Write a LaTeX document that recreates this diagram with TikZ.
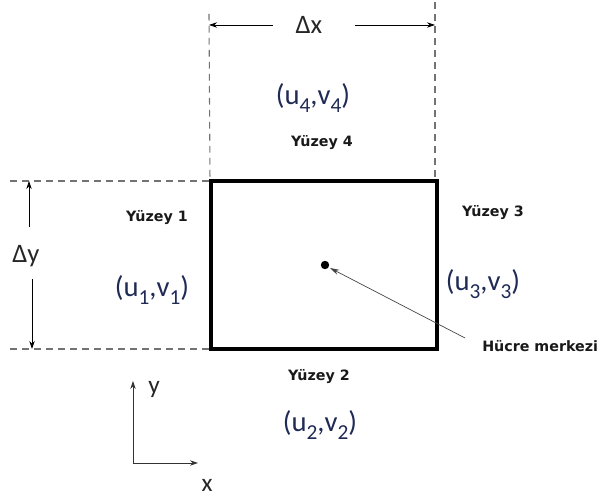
\documentclass[tikz,border=0pt]{standalone}
\usepackage{fontspec}
\setmainfont{Carlito}
\newfontfamily\facefont{DejaVu Sans}
\usetikzlibrary{arrows.meta}
\definecolor{velblue}{HTML}{1F2A55}
\newcommand{\lowsub}[1]{\raisebox{-0.55ex}{\fontsize{16}{18}\selectfont #1}}
\tikzset{
  guide/.style={black!55,line width=0.8pt,dash pattern=on 5pt off 4pt},
  dimline/.style={black,line width=0.5pt,-{Stealth[length=6pt,width=4pt]}},
  facelabel/.style={font=\facefont\bfseries\fontsize{10.7}{12}\selectfont,text=black!90},
  vellabel/.style={font=\fontsize{21.5}{24}\selectfont,text=velblue,inner sep=0pt},
  symlabel/.style={font=\fontsize{19}{21}\selectfont,text=black!85,inner sep=0pt},
  dimlabel/.style={symlabel,font=\fontsize{20}{22}\selectfont}
}
\begin{document}
\begin{tikzpicture}[x=0.75pt,y=-0.75pt]
\useasboundingbox (0,0) rectangle (601,498);
% cell
\draw[line width=2.8pt] (211,181) rectangle (437,349);
\coordinate (tl) at (210,181);
\coordinate (bl) at (210,349);
\coordinate (tr) at (435,181);
% guide lines
\draw[guide] (209,14) -- (tl);
\draw[guide] (435,2) -- (tr);
\draw[guide] (10,181) -- (tl);
\draw[guide] (10,349) -- (bl);
% dimension arrows
\node[dimlabel] (dx) at (309,25) {Δx};
\draw[dimline] (273,25) -- (209,25);
\draw[dimline] (355,25) -- (435,25);
\node[dimlabel] (dy) at (26,256) {Δy};
\draw[dimline] (29,227) -- (29,181);
\draw[dimline] (32,279) -- (32,349);
% faces
\node[vellabel] (v4) at (313,98) {(u\lowsub{4},v\lowsub{4})};
\node[facelabel] (f4) at (322,143) {Yüzey 4};
\node[facelabel] (f1) at (157,218) {Yüzey 1};
\node[vellabel] (v1) at (152,290) {(u\lowsub{1},v\lowsub{1})};
\node[facelabel] (f3) at (493,213) {Yüzey 3};
\node[vellabel] (v3) at (483,284) {(u\lowsub{3},v\lowsub{3})};
\node[facelabel] (f2) at (319,377) {Yüzey 2};
\node[vellabel] (v2) at (320,425) {(u\lowsub{2},v\lowsub{2})};
% cell centre
\fill (325,265) circle (4.2);
\coordinate (cc) at (330,268);
\node[facelabel,anchor=west,inner sep=0pt] (hm) at (482,346) {Hücre merkezi};
\coordinate (hmtail) at (465,338);
\draw[black!75,line width=0.5pt,-{Stealth[length=7pt,width=4pt]}] (hmtail) -- (cc);
% axes
\coordinate (o) at (133,463);
\coordinate (ytip) at (133,381);
\coordinate (xtip) at (198,463);
\draw[black!80,line width=0.6pt,-{Stealth[length=6pt,width=4pt]}] (o) -- (ytip);
\draw[black!80,line width=0.6pt,-{Stealth[length=6pt,width=4pt]}] (o) -- (xtip);
\node[symlabel] (ay) at (154,389) {y};
\node[symlabel] (ax) at (207,485) {x};
\end{tikzpicture}
\end{document}
